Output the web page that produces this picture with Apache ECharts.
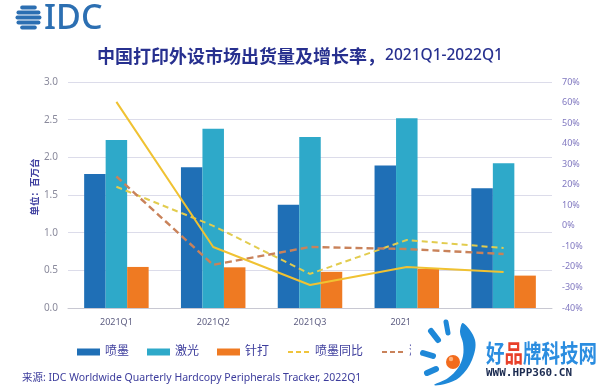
<!DOCTYPE html>
<html>
<head>
<meta charset="utf-8">
<script src="https://cdn.jsdelivr.net/npm/echarts@6/dist/echarts.min.js"></script>
<style>
html,body{margin:0;padding:0;background:#fff;}
#c{width:600px;height:389px;}
</style>
</head>
<body>
<div id="c"></div>
<script>
var categories = ['2021Q1', '2021Q2', '2021Q3', '2021Q4', '2022Q1'];
var inkjet = [1.78, 1.87, 1.37, 1.89, 1.59];
var laser = [2.23, 2.38, 2.27, 2.52, 1.92];
var dotMatrix = [0.545, 0.54, 0.48, 0.52, 0.43];
var inkjetYoY = [19, 0, -23.4, -6.9, -10.8];
var laserYoY = [24, -19, -10.3, -11.3, -13.7];
var dotMatrixYoY = [60.3, -10.3, -28.8, -20, -22.5];
var leftTicks = [0, 0.5, 1.0, 1.5, 2.0, 2.5, 3.0];
var rightTicks = [-40, -30, -20, -10, 0, 10, 20, 30, 40, 50, 60, 70];

var chart = echarts.init(document.getElementById('c'));
var FONT = '"Noto Sans", "Noto Sans CJK SC", sans-serif';

// legend icons: dashed and solid thin lines inside a 23x7 box
var dashIcon = 'path://M0,0h0.01v0.01h-0.01z M0,7h0.01v-0.01h-0.01z M23,0h-0.01v0.01h0.01z M23,7h-0.01v-0.01h0.01z ' +
  'M1,2.5h5v2h-5z M9,2.5h5v2h-5z M17,2.5h5v2h-5z';
var solidIcon = 'path://M0,0h0.01v0.01h-0.01z M0,7h0.01v-0.01h-0.01z M23,0h-0.01v0.01h0.01z M23,7h-0.01v-0.01h0.01z ' +
  'M1,2.5h21v2h-21z';

// IDC logo stripes (decorative)
var logoGraphics = [];
var cx = 28.5, cy = 17.5, r = 13;
var stripeYs = [-10, -5, 0, 5, 10];
stripeYs.forEach(function (dy) {
  var half = Math.sqrt(Math.max(r * r - dy * dy, 9));
  logoGraphics.push({
    type: 'rect',
    shape: { x: cx - half, y: cy + dy - 1.9, width: half * 2, height: 3.8, r: 1.9 },
    style: { fill: '#2c6fb2' }
  });
});

chart.setOption({
  backgroundColor: '#ffffff',
  textStyle: { fontFamily: FONT },
  grid: { left: 68, right: 48, top: 82, bottom: 81, containLabel: false },
  legend: {
    left: 77,
    top: 346,
    padding: 0,
    itemWidth: 23,
    itemHeight: 7,
    itemGap: 18,
    textStyle: { color: '#3c3c9c', fontSize: 12, fontFamily: FONT },
    data: [
      { name: '喷墨', icon: 'rect' },
      { name: '激光', icon: 'rect' },
      { name: '针打', icon: 'rect' },
      { name: '喷墨同比', icon: dashIcon, itemStyle: { color: '#efc43c' } },
      { name: '激光同比', icon: dashIcon, itemStyle: { color: '#c9825a' } },
      { name: '针打同比', icon: solidIcon, itemStyle: { color: '#f0c232' } }
    ]
  },
  xAxis: {
    type: 'category',
    data: categories,
    axisLine: { lineStyle: { color: '#c8c8d2' } },
    axisTick: { show: false },
    axisLabel: { color: '#5c5c80', fontSize: 9, margin: 9.5, fontFamily: FONT }
  },
  yAxis: [
    {
      type: 'value', min: 0, max: 3, interval: 0.5,
      axisLine: { show: false }, axisTick: { show: false },
      splitLine: { lineStyle: { color: '#dcdcea', width: 1 } },
      axisLabel: { color: '#8a8a9c', fontSize: 10, margin: 10,
        formatter: function (v) { return v.toFixed(1); } }
    },
    {
      type: 'value', min: -40, max: 70, interval: 10,
      axisLine: { show: false }, axisTick: { show: false },
      splitLine: { show: false },
      axisLabel: { color: '#8078c0', fontSize: 9, margin: 10, formatter: '{value}%' }
    }
  ],
  series: [
    { name: '喷墨', type: 'bar', data: inkjet, barWidth: 21.5, barGap: '0%',
      itemStyle: { color: '#1f6fb6' } },
    { name: '激光', type: 'bar', data: laser, barWidth: 21.5, barGap: '0%',
      itemStyle: { color: '#2ea9c9' } },
    { name: '针打', type: 'bar', data: dotMatrix, barWidth: 21.5, barGap: '0%',
      itemStyle: { color: '#ef7a22' } },
    { name: '喷墨同比', type: 'line', yAxisIndex: 1, data: inkjetYoY, symbol: 'none',
      z: 5, lineStyle: { color: '#e2cc4e', width: 2, type: [6, 4] },
      itemStyle: { color: '#e2cc4e' } },
    { name: '激光同比', type: 'line', yAxisIndex: 1, data: laserYoY, symbol: 'none',
      z: 5, lineStyle: { color: '#c9825a', width: 2.4, type: [7, 4] },
      itemStyle: { color: '#c9825a' } },
    { name: '针打同比', type: 'line', yAxisIndex: 1, data: dotMatrixYoY, symbol: 'none',
      z: 6, lineStyle: { color: '#f0c232', width: 2 },
      itemStyle: { color: '#f0c232' } }
  ],
  graphic: logoGraphics.concat([
    { type: 'text', x: 44, y: 19,
      style: { text: 'IDC', fill: '#2c6fb2', verticalAlign: 'middle',
        font: '500 34px "Noto Sans", sans-serif' } },
    { type: 'text', x: 300, y: 56,
      style: {
        text: '{a|中国打印外设市场出货量及增长率，}{b|2021Q1-2022Q1}',
        align: 'center', verticalAlign: 'middle',
        rich: {
          a: { fontSize: 18, fontWeight: 'bold', fill: '#27308f', fontFamily: '"Noto Sans CJK SC", sans-serif' },
          b: { fontSize: 15.5, fontWeight: 500, fill: '#27308f', fontFamily: '"Noto Sans", sans-serif' }
        }
      } },
    { type: 'text', x: 34, y: 187, rotation: Math.PI / 2,
      style: { text: '单位：百万台', fill: '#4040a0', align: 'center', verticalAlign: 'middle',
        font: 'bold 9.5px "Noto Sans CJK SC", sans-serif' } },
    { type: 'text', x: 22, y: 378,
      style: { text: '来源: IDC Worldwide Quarterly Hardcopy Peripherals Tracker, 2022Q1',
        fill: '#3c3c9c', verticalAlign: 'middle',
        font: '10.5px "Noto Sans", "Noto Sans CJK SC", sans-serif' } },
    // watermark
    { type: 'rect', shape: { x: 411, y: 318, width: 189, height: 71 },
      style: { fill: '#ffffff' }, z: 100 },
    { type: 'polygon', z: 101,
      shape: { smooth: 0.35, points: [[463, 323], [475, 340], [472, 360], [460, 377], [445, 384], [434, 385], [448, 378], [458, 368], [463, 356], [463, 343], [460, 332]] },
      style: { fill: '#1e88d8' } },
    { type: 'line', z: 101, shape: { x1: 431, y1: 331, x2: 438, y2: 340 },
      style: { stroke: '#1e88d8', lineWidth: 6, lineCap: 'round' } },
    { type: 'line', z: 101, shape: { x1: 423, y1: 353, x2: 433, y2: 356 },
      style: { stroke: '#1e88d8', lineWidth: 6, lineCap: 'round' } },
    { type: 'line', z: 101, shape: { x1: 427, y1: 373, x2: 436, y2: 369 },
      style: { stroke: '#1e88d8', lineWidth: 6, lineCap: 'round' } },
    { type: 'line', z: 101, shape: { x1: 446, y1: 322, x2: 448, y2: 333 },
      style: { stroke: '#1e88d8', lineWidth: 5, lineCap: 'round' } },
    { type: 'circle', z: 101, shape: { cx: 453, cy: 362, r: 7 },
      style: { fill: '#f26b1d' } },
    { type: 'circle', z: 102, shape: { cx: 451, cy: 359, r: 2.2 },
      style: { fill: '#ffb27a' } },
    { type: 'text', z: 101, x: 486, y: 353, scaleY: 1.3,
      style: { text: '{a|好}{b|品}{a|牌科技网}', verticalAlign: 'middle',
        rich: {
          a: { fontSize: 18.5, fontWeight: 'bold', fill: '#2b8de0', fontFamily: '"Noto Sans CJK SC", sans-serif' },
          b: { fontSize: 18.5, fontWeight: 'bold', fill: '#e8402a', fontFamily: '"Noto Sans CJK SC", sans-serif' }
        } } },
    { type: 'text', z: 101, x: 486, y: 373,
      style: { text: 'WWW.HPP360.CN', fill: '#1a2a50', verticalAlign: 'middle',
        font: 'bold 11px "DejaVu Sans Mono", monospace' } }
  ])
});
</script>
</body>
</html>
